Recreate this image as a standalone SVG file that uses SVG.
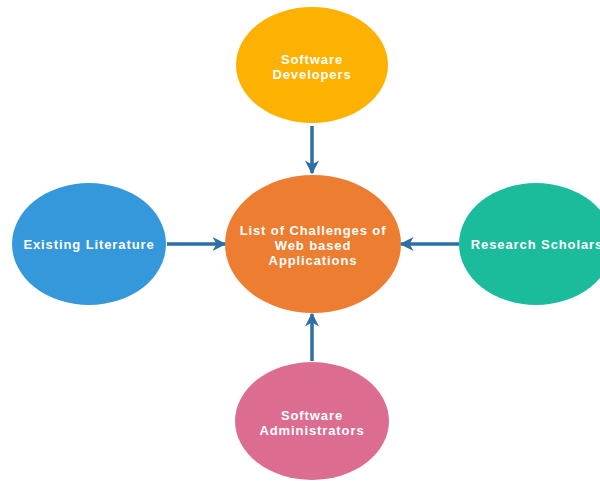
<svg xmlns="http://www.w3.org/2000/svg" width="600" height="481" viewBox="0 0 600 481">
<defs>
<style>
.lbl{font-family:"Liberation Sans",Arial,sans-serif;font-size:13px;font-weight:bold;fill:#ffffff;text-anchor:middle;letter-spacing:0.9px}
.conn{stroke:#2c6ea5;stroke-width:3.5;fill:none}
</style>
<marker id="ah" viewBox="0 0 10 10" refX="9" refY="5" markerWidth="4" markerHeight="4" orient="auto" markerUnits="strokeWidth">
<path d="M0,0 L10,5 L0,10 L3,5 Z" fill="#2c6ea5"/>
</marker>
</defs>
<rect width="600" height="481" fill="#ffffff"/>
<g id="connectors">
<line class="conn" x1="312" y1="126" x2="312" y2="173" marker-end="url(#ah)"/>
<line class="conn" x1="167" y1="244" x2="225" y2="244" marker-end="url(#ah)"/>
<line class="conn" x1="459" y1="244" x2="401" y2="244" marker-end="url(#ah)"/>
<line class="conn" x1="312" y1="361" x2="312" y2="314" marker-end="url(#ah)"/>
</g>
<g id="developers">
<ellipse cx="312" cy="65" rx="76" ry="58" fill="#fdb100"/>
<text class="lbl" x="312" y="64">Software</text>
<text class="lbl" x="312" y="79">Developers</text>
</g>
<g id="literature">
<ellipse cx="89" cy="244" rx="77" ry="61" fill="#3598da"/>
<text class="lbl" x="89" y="249">Existing Literature</text>
</g>
<g id="challenges">
<ellipse cx="313" cy="244" rx="88" ry="69" fill="#ed7d31"/>
<text class="lbl" x="313" y="235">List of Challenges of</text>
<text class="lbl" x="313" y="250">Web based</text>
<text class="lbl" x="313" y="265">Applications</text>
</g>
<g id="scholars">
<ellipse cx="536" cy="244" rx="77" ry="61" fill="#1abc9c"/>
<text class="lbl" x="537" y="249">Research Scholars</text>
</g>
<g id="administrators">
<ellipse cx="312" cy="421" rx="77" ry="59" fill="#dc6d91"/>
<text class="lbl" x="312" y="420">Software</text>
<text class="lbl" x="312" y="435">Administrators</text>
</g>
</svg>
